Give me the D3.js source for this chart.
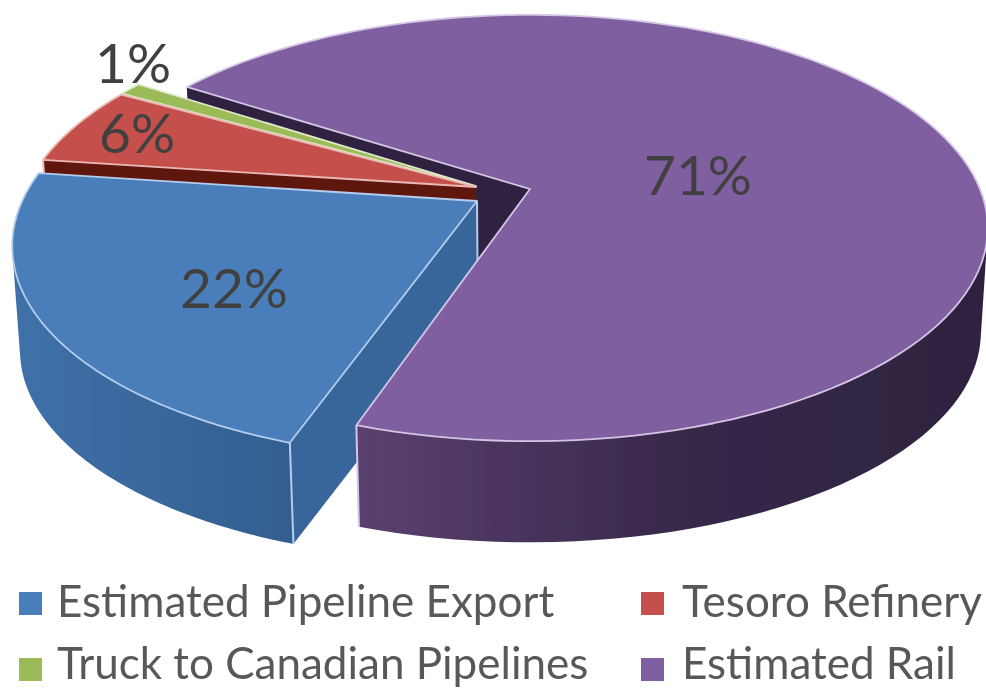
<!DOCTYPE html>
<html>
<head>
<meta charset="utf-8">
<script src="https://cdn.jsdelivr.net/npm/d3@7"></script>
<style>
  html, body { margin: 0; background: #fff; }
  text { font-family: Lato, "Open Sans", sans-serif; }
</style>
</head>
<body>
<div id="chart"></div>
<script>
var categories = ['Estimated Pipeline Export', 'Tesoro Refinery', 'Truck to Canadian Pipelines', 'Estimated Rail']
var shares = [22, 6, 1, 71]
var labels = ['22%', '6%', '1%', '71%']
var colors = ['#4a7ebb', '#c4504c', '#9bbb59', '#7f5fa0']

var width = 986, height = 689
var svg = d3.select('#chart').append('svg')
  .attr('width', width).attr('height', height)
  .style('display', 'block')

// fake 3d: a plane seen in perspective, bottom layer pulled down and slightly in
var ox = 530, oy = 189, rx = 450, ry = 206, k = 0.183
var depth = 105, shrink = 0.985

function project(u, v, low) {
  var den = 1 - k * v
  var x = ox + rx * u / den
  var y = oy + ry * v / den
  return low ? [ox + shrink * (x - ox), oy + depth + shrink * (y - oy)] : [x, y]
}
function unproject(x, y) {
  var t = (y - oy) / ry
  var v = t / (1 + k * t)
  return [(x - ox) / rx * (1 - k * v), v]
}

// where each exploded slice has its tip on screen
var tips = [[477, 201], [476, 187], [476, 186], [530, 189]]
var wallColors = [['#3f71a9', '#335e90'], ['#6e1a16', '#5a1410'], ['#6d8a36', '#5f7a2e'], ['#5b4070', '#38294b', '#2e2340']]
var sideColors = ['#38659a', '#5e1510', '#7d9a42', '#2d2240']
var edgeColors = ['#b4cdec', '#eab9b5', '#dfe8c8', '#d4c6e4']
var wallRange = [[14, 290], [40, 130], [120, 140], [355, 985]]

var pie = d3.pie().sort(null).startAngle(198.6 * Math.PI / 180).endAngle((198.6 + 360) * Math.PI / 180)
var arcs = pie(shares)
var poly = d3.line()

arcs.forEach(function(d, i) {
  d.tip = unproject(tips[i][0], tips[i][1])
  d.at = function(a, low) {
    return project(d.tip[0] + Math.sin(a), d.tip[1] - Math.cos(a), low)
  }
  d.rim = d3.range(0, 121).map(function(j) {
    return d.startAngle + (d.endAngle - d.startAngle) * j / 120
  })
})

var defs = svg.append('defs')
arcs.forEach(function(d, i) {
  var g = defs.append('linearGradient')
    .attr('id', 'wall-' + i)
    .attr('gradientUnits', 'userSpaceOnUse')
    .attr('x1', wallRange[i][0]).attr('x2', wallRange[i][1])
    .attr('y1', 0).attr('y2', 0)
  wallColors[i].forEach(function(c, j) {
    g.append('stop').attr('offset', j / (wallColors[i].length - 1)).attr('stop-color', c)
  })
})
// the reference is a soft upscaled screenshot
defs.append('filter').attr('id', 'soft')
  .append('feGaussianBlur').attr('stdDeviation', 0.6)

var root = svg.append('g').attr('filter', 'url(#soft)')
var pieSel = root.append('g')

function tipAt(d, low) { return project(d.tip[0], d.tip[1], low) }

function side(d, a) {
  return poly([tipAt(d), d.at(a), d.at(a, true), tipAt(d, true)]) + 'Z'
}

// purple inner wall goes first, it sits behind everything on the left
var purple = arcs[3]
pieSel.append('path').attr('d', side(purple, purple.startAngle)).attr('fill', sideColors[3])

;[2, 1, 0].forEach(drawSlice)
drawSlice(3)

function drawSlice(i) {
  var d = arcs[i]
  var g = pieSel.append('g')

  // outer wall as one path of thin strips, only the ones facing the camera
  var strips = d3.pairs(d.rim).map(function(p) {
    return [d.at(p[0]), d.at(p[1]), d.at(p[1], true), d.at(p[0], true)]
  }).filter(function(q) {
    return d3.polygonArea(q) > 0
  }).map(function(q) { return poly(q) + 'Z' }).join('')
  g.append('path').attr('d', strips).attr('fill', 'url(#wall-' + i + ')')

  if (i != 3) {
    g.append('path').attr('d', side(d, d.startAngle)).attr('fill', sideColors[i])
  }

  var edge = i == 3 ? d.endAngle : d.startAngle
  g.append('path').attr('d', poly([d.at(edge), d.at(edge, true)]))
    .attr('fill', 'none').attr('stroke', edgeColors[i]).attr('stroke-width', 2)

  if (i == 0) {
    g.append('path').attr('d', poly([tipAt(d), tipAt(d, true)]))
      .attr('fill', 'none').attr('stroke', edgeColors[i]).attr('stroke-width', 2)
  }

  var top = [tipAt(d)].concat(d.rim.map(function(a) { return d.at(a) }))
  g.append('path').attr('d', poly(top) + 'Z')
    .attr('fill', colors[i])
    .attr('stroke', edgeColors[i]).attr('stroke-width', 1.8)
    .attr('stroke-linejoin', 'round')
}

// data labels
var labelPos = [[234, 288], [137, 133], [133, 63], [698, 175]]
root.append('g').selectAll('text').data(labels).join('text')
  .attr('x', function(d, i) { return labelPos[i][0] })
  .attr('y', function(d, i) { return labelPos[i][1] })
  .attr('dy', '.36em')
  .attr('text-anchor', 'middle')
  .attr('font-size', 55)
  .attr('fill', '#404040')
  .text(function(d) { return d })

// legend
var legendX = [19, 641, 19, 641]
var legendY = [617, 617, 679, 679]
var swatchY = [-25, -25, -21, -21]
var legend = root.append('g').selectAll('g').data(categories).join('g')
  .attr('transform', function(d, i) { return 'translate(' + legendX[i] + ',' + legendY[i] + ')' })
legend.append('rect')
  .attr('y', function(d, i) { return swatchY[i] })
  .attr('width', 23).attr('height', 23)
  .attr('fill', function(d, i) { return colors[i] })
legend.append('text')
  .attr('x', function(d, i) { return i % 2 ? 41 : 38 })
  .attr('font-size', 44)
  .attr('fill', '#595959')
  .text(function(d) { return d })
</script>
</body>
</html>
